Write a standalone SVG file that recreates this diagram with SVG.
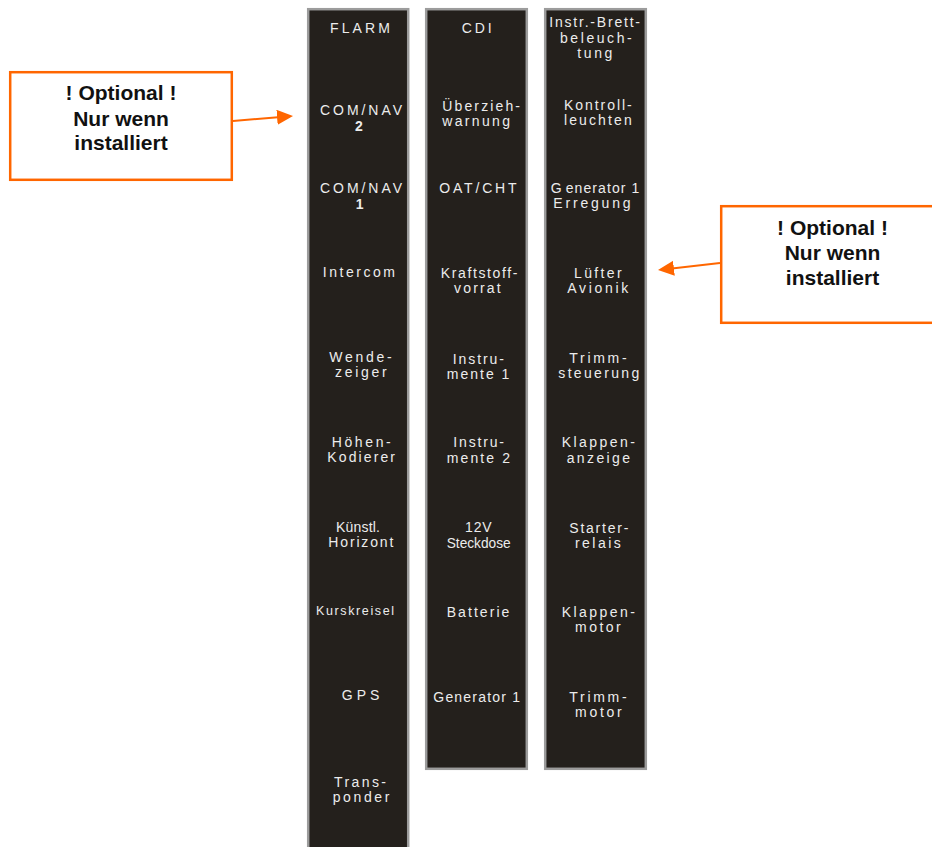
<svg xmlns="http://www.w3.org/2000/svg" width="932" height="847" viewBox="0 0 932 847">
<defs>
<style>
.col{fill:#24201c;stroke:#9c9c9c;stroke-width:2.5}
.lbl{font-family:"Liberation Sans",Arial,sans-serif;font-size:14px;fill:#ececec}
.num{font-family:"Liberation Sans",Arial,sans-serif;font-size:14px;font-weight:bold;fill:#ececec;text-anchor:middle}
.box{fill:#ffffff;stroke:#ff6600;stroke-width:2.5}
.ct{font-family:"Liberation Sans",Arial,sans-serif;font-size:21px;font-weight:bold;fill:#111111;text-anchor:middle}
.arr{stroke:#ff6600;stroke-width:2;fill:none}
</style>
<marker id="ah" markerUnits="userSpaceOnUse" markerWidth="17" markerHeight="16" refX="13" refY="7.5" orient="auto">
<path d="M0,0 L16,7.5 L0,15 z" fill="#ff6600"/>
</marker>
</defs>
<rect width="932" height="847" fill="#ffffff"/>

<g id="column1">
<rect class="col" x="308.2" y="9.2" width="100" height="850"/>
<g id="c1-flarm"><text class="lbl" x="330" y="33" textLength="60" lengthAdjust="spacing">FLARM</text></g>
<g id="c1-comnav2"><text class="lbl" x="320" y="115" textLength="82" lengthAdjust="spacing">COM/NAV</text><text class="num" x="359" y="131">2</text></g>
<g id="c1-comnav1"><text class="lbl" x="320" y="193" textLength="82" lengthAdjust="spacing">COM/NAV</text><text class="num" x="359.7" y="209">1</text></g>
<g id="c1-intercom"><text class="lbl" x="322.7" y="277" textLength="72.3" lengthAdjust="spacing">Intercom</text></g>
<g id="c1-wendezeiger"><text class="lbl" x="329.3" y="362" textLength="62.3" lengthAdjust="spacing">Wende-</text><text class="lbl" x="335" y="377" textLength="51.7" lengthAdjust="spacing">zeiger</text></g>
<g id="c1-hoehenkodierer"><text class="lbl" x="331.7" y="447" textLength="59" lengthAdjust="spacing">Höhen-</text><text class="lbl" x="327.3" y="462" textLength="67.7" lengthAdjust="spacing">Kodierer</text></g>
<g id="c1-horizont"><text class="lbl" x="336" y="532" textLength="44" lengthAdjust="spacing">Künstl.</text><text class="lbl" x="328.3" y="547" textLength="65" lengthAdjust="spacing">Horizont</text></g>
<g id="c1-kurskreisel"><text class="lbl" x="316" y="615" style="font-size:12.5px" textLength="78" lengthAdjust="spacing">Kurskreisel</text></g>
<g id="c1-gps"><text class="lbl" x="341.7" y="700" textLength="37.7" lengthAdjust="spacing">GPS</text></g>
<g id="c1-transponder"><text class="lbl" x="334" y="786.5" textLength="52" lengthAdjust="spacing">Trans-</text><text class="lbl" x="332.7" y="801.5" textLength="56.7" lengthAdjust="spacing">ponder</text></g>
</g>

<g id="column2">
<rect class="col" x="426.2" y="9.2" width="100.6" height="759.6"/>
<g id="c2-cdi"><text class="lbl" x="461.7" y="33" textLength="30" lengthAdjust="spacing">CDI</text></g>
<g id="c2-ueberzieh"><text class="lbl" x="442.3" y="110.5" textLength="77.7" lengthAdjust="spacing">Überzieh-</text><text class="lbl" x="442.3" y="125.5" textLength="67.7" lengthAdjust="spacing">warnung</text></g>
<g id="c2-oatcht"><text class="lbl" x="439.3" y="193" textLength="77.3" lengthAdjust="spacing">OAT/CHT</text></g>
<g id="c2-kraftstoff"><text class="lbl" x="440.7" y="278" textLength="76.7" lengthAdjust="spacing">Kraftstoff-</text><text class="lbl" x="454" y="293" textLength="46.7" lengthAdjust="spacing">vorrat</text></g>
<g id="c2-instrumente1"><text class="lbl" x="452.7" y="364" textLength="51.3" lengthAdjust="spacing">Instru-</text><text class="lbl" x="446.7" y="379" textLength="62.7" lengthAdjust="spacing">mente 1</text></g>
<g id="c2-instrumente2"><text class="lbl" x="453.3" y="447" textLength="50.7" lengthAdjust="spacing">Instru-</text><text class="lbl" x="446.7" y="463" textLength="63.3" lengthAdjust="spacing">mente 2</text></g>
<g id="c2-steckdose"><text class="lbl" x="465" y="532" textLength="26.7" lengthAdjust="spacing">12V</text><text class="lbl" x="446.7" y="548" style="font-size:15px" textLength="64" lengthAdjust="spacingAndGlyphs">Steckdose</text></g>
<g id="c2-batterie"><text class="lbl" x="446.7" y="617" textLength="62.7" lengthAdjust="spacing">Batterie</text></g>
<g id="c2-generator1"><text class="lbl" x="433.3" y="702" textLength="86.7" lengthAdjust="spacing">Generator 1</text></g>
</g>

<g id="column3">
<rect class="col" x="545.2" y="9.2" width="100.6" height="759.6"/>
<g id="c3-beleuchtung"><text class="lbl" x="549.3" y="27" textLength="90.7" lengthAdjust="spacing">Instr.-Brett-</text><text class="lbl" x="560" y="43" textLength="71.7" lengthAdjust="spacing">beleuch-</text><text class="lbl" x="577.3" y="58" textLength="35" lengthAdjust="spacing">tung</text></g>
<g id="c3-kontroll"><text class="lbl" x="564" y="110" textLength="67.7" lengthAdjust="spacing">Kontroll-</text><text class="lbl" x="564" y="125" textLength="67.7" lengthAdjust="spacing">leuchten</text></g>
<g id="c3-erregung"><text class="lbl" x="550.7" y="193" textLength="88.7" lengthAdjust="spacing">G<tspan dx="3">enerator 1</tspan></text><text class="lbl" x="553.3" y="208" textLength="77.3" lengthAdjust="spacing">Erregung</text></g>
<g id="c3-luefter"><text class="lbl" x="574" y="278" textLength="47.7" lengthAdjust="spacing">Lüfter</text><text class="lbl" x="567.3" y="293" textLength="61" lengthAdjust="spacing">Avionik</text></g>
<g id="c3-trimmsteuerung"><text class="lbl" x="569.3" y="363" textLength="57.3" lengthAdjust="spacing">Trimm-</text><text class="lbl" x="558.3" y="378" textLength="81" lengthAdjust="spacing">steuerung</text></g>
<g id="c3-klappenanzeige"><text class="lbl" x="561.7" y="447" textLength="73.3" lengthAdjust="spacing">Klappen-</text><text class="lbl" x="566.7" y="463" textLength="63.3" lengthAdjust="spacing">anzeige</text></g>
<g id="c3-starterrelais"><text class="lbl" x="569.3" y="532.5" textLength="59" lengthAdjust="spacing">Starter-</text><text class="lbl" x="575" y="547.5" textLength="45.7" lengthAdjust="spacing">relais</text></g>
<g id="c3-klappenmotor"><text class="lbl" x="561.7" y="617" textLength="73.3" lengthAdjust="spacing">Klappen-</text><text class="lbl" x="575" y="632" textLength="45.7" lengthAdjust="spacing">motor</text></g>
<g id="c3-trimmmotor"><text class="lbl" x="569.3" y="702" textLength="57.3" lengthAdjust="spacing">Trimm-</text><text class="lbl" x="575" y="717" textLength="46.7" lengthAdjust="spacing">motor</text></g>
</g>

<g id="callout-left">
<rect class="box" x="10.2" y="72.2" width="221.6" height="107.6"/>
<text class="ct" x="121" y="100">! Optional !</text>
<text class="ct" x="121" y="125.5">Nur wenn</text>
<text class="ct" x="121" y="150">installiert</text>
</g>

<g id="callout-right">
<rect class="box" x="721.2" y="206.2" width="225" height="116.6"/>
<text class="ct" x="832.5" y="235">! Optional !</text>
<text class="ct" x="832.5" y="260">Nur wenn</text>
<text class="ct" x="832.5" y="285">installiert</text>
</g>

<g id="connectors">
<line class="arr" x1="233" y1="121" x2="290" y2="116.2" marker-end="url(#ah)"/>
<line class="arr" x1="720" y1="263" x2="661" y2="269.7" marker-end="url(#ah)"/>
</g>
</svg>
